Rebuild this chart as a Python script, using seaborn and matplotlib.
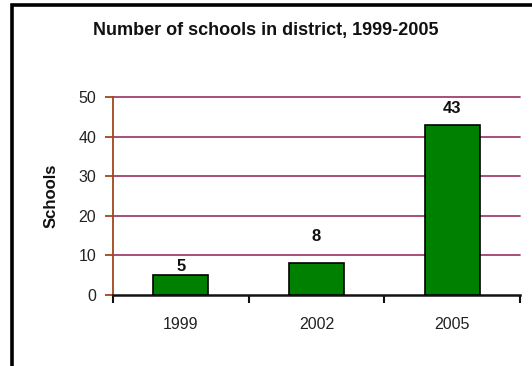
import matplotlib
matplotlib.use("Agg")
import matplotlib.pyplot as plt
import seaborn as sns
import pandas as pd
from matplotlib.patches import Rectangle

years = ["1999", "2002", "2005"]
schools = [5, 8, 43]
label_offsets = [1, 14, 6]  # points above each bar top

sns.set_theme(style="white")
plt.rcParams["font.family"] = ["Liberation Sans Narrow", "Liberation Sans", "DejaVu Sans"]

df = pd.DataFrame({"Year": years, "Schools": schools})

fig = plt.figure(figsize=(5.32, 3.66), dpi=100)
ax = fig.add_axes([113 / 532, 71 / 366, 407 / 532, 198 / 366])

sns.barplot(data=df, x="Year", y="Schools", color="#008000", saturation=1,
            width=0.405, edgecolor="black", linewidth=1.2, ax=ax, zorder=3)

ax.set_xlim(-0.5, 2.5)
ax.set_ylim(0, 50)
ax.set_yticks([0, 10, 20, 30, 40, 50])
for y in [10, 20, 30, 40, 50]:
    ax.axhline(y, color="#a0406e", lw=1.3, zorder=1, clip_on=False)

for sp in ["top", "right"]:
    ax.spines[sp].set_visible(False)
ax.spines["left"].set_color("#a0461e")
ax.spines["left"].set_linewidth(1.3)
ax.spines["bottom"].set_color("#111111")
ax.spines["bottom"].set_linewidth(1.8)

ax.tick_params(axis="y", length=6, width=1.3, color="#a0461e", labelsize=11.5,
               labelcolor="#222222", pad=6, left=True)
ax.tick_params(axis="x", length=0, labelsize=11.5, labelcolor="#222222", pad=16)

# category boundary ticks below the x axis
ax.set_xticks([-0.5, 0.5, 1.5, 2.5], minor=True)
ax.tick_params(axis="x", which="minor", length=6, width=1.5, color="#111111",
               direction="out", bottom=True)

ax.set_xlabel("")
ax.set_ylabel("Schools", fontsize=12, fontweight="bold", color="#111111", labelpad=14)

for i, (v, off) in enumerate(zip(schools, label_offsets)):
    ax.annotate(str(v), (i, v), xytext=(0, off), textcoords="offset points",
                ha="center", va="bottom", fontsize=12, fontweight="bold",
                color="#111111")

fig.text(0.5, 1 - 30 / 366, "Number of schools in district, 1999-2005",
         ha="center", va="center", fontsize=13, fontweight="bold", color="#111111")

fig.patches.append(Rectangle((11.5 / 532, -0.2), 1.0, 1.2 - 4.5 / 366,
                             transform=fig.transFigure, fill=False,
                             edgecolor="black", lw=2.6, zorder=10))

fig.savefig("out.png", dpi=100)
